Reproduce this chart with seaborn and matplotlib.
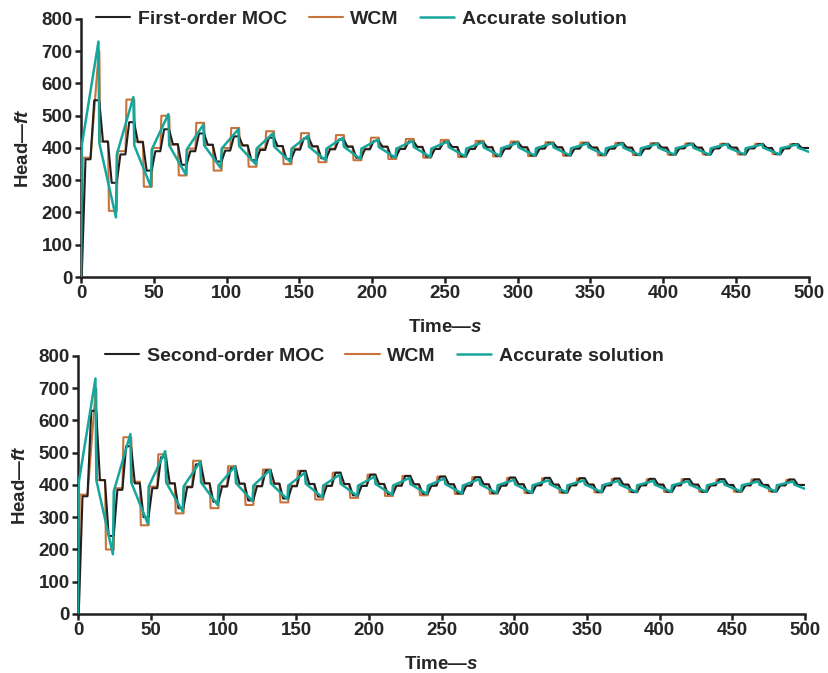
import matplotlib
matplotlib.use('Agg')
import matplotlib.pyplot as plt
import seaborn as sns
import pandas as pd

# start of each 6 s step of the numerical schemes
step_start = [0, 6, 12, 18, 24, 30, 36, 42, 48, 54, 60, 66, 72, 78, 84, 90,
              96, 102, 108, 114, 120, 126, 132, 138, 144, 150, 156, 162, 168,
              174, 180, 186, 192, 198, 204, 210, 216, 222, 228, 234, 240, 246,
              252, 258, 264, 270, 276, 282, 288, 294, 300, 306, 312, 318, 324,
              330, 336, 342, 348, 354, 360, 366, 372, 378, 384, 390, 396, 402,
              408, 414, 420, 426, 432, 438, 444, 450, 456, 462, 468, 474, 480,
              486, 492]

# head level (ft) held during each step
moc1_level = [365, 548, 420, 292, 380, 480, 418, 330, 390, 458, 412, 348,
              390, 445, 410, 358, 392, 436, 408, 362, 394, 432, 406, 366,
              395, 430, 405, 368, 396, 426, 404, 370, 396, 422, 404, 373,
              397, 420, 403, 374, 397, 418, 403, 375, 397, 417, 402, 376,
              398, 416, 402, 377, 398, 415, 402, 378, 398, 414, 401, 379,
              398, 414, 401, 379, 398, 413, 401, 380, 399, 413, 401, 380,
              399, 412, 401, 381, 399, 412, 400, 381, 399, 412, 400]

wcm1_level = [370, 700, 420, 205, 390, 550, 420, 280, 400, 500, 410, 315,
              398, 478, 410, 330, 400, 462, 408, 342, 398, 452, 406, 350,
              398, 446, 405, 356, 398, 440, 405, 362, 398, 432, 404, 366,
              398, 428, 404, 370, 398, 425, 403, 372, 398, 422, 403, 374,
              399, 420, 402, 375, 399, 418, 402, 376, 399, 417, 402, 377,
              399, 416, 401, 378, 399, 415, 401, 379, 399, 414, 401, 380,
              399, 413, 401, 380, 399, 413, 400, 381, 399, 412, 400]

moc2_level = [365, 630, 415, 242, 385, 520, 405, 300, 390, 486, 405, 328,
              393, 464, 405, 348, 395, 452, 404, 352, 396, 445, 404, 358,
              396, 443, 403, 364, 397, 438, 403, 368, 397, 432, 403, 372,
              398, 428, 402, 373, 398, 426, 402, 374, 398, 424, 402, 375,
              398, 423, 402, 376, 399, 422, 401, 377, 399, 421, 401, 378,
              399, 420, 401, 378, 399, 419, 401, 379, 399, 418, 401, 379,
              399, 418, 400, 380, 399, 417, 400, 380, 399, 417, 400]

wcm2_level = [370, 700, 415, 200, 390, 548, 410, 275, 395, 495, 405, 312,
              395, 475, 405, 328, 397, 458, 404, 338, 397, 448, 404, 346,
              398, 444, 403, 355, 398, 438, 403, 360, 398, 432, 403, 366,
              398, 428, 402, 368, 398, 426, 402, 372, 398, 424, 402, 373,
              399, 422, 402, 375, 399, 421, 401, 376, 399, 420, 401, 377,
              399, 419, 401, 378, 399, 418, 401, 378, 399, 418, 401, 379,
              399, 417, 400, 379, 399, 417, 400, 380, 399, 416, 400]

# accurate solution: sawtooth, value just before / after each turn
acc_knot = [0, 12, 24, 36, 48, 60, 72, 84, 96, 108, 120, 132, 144, 156, 168,
            180, 192, 204, 216, 228, 240, 252, 264, 276, 288, 300, 312, 324,
            336, 348, 360, 372, 384, 396, 408, 420, 432, 444, 456, 468, 480,
            492]
acc_before = [0, 730, 185, 558, 280, 505, 318, 472, 338, 458, 350, 446, 356,
              438, 362, 432, 366, 426, 370, 422, 372, 420, 374, 418, 375, 416,
              376, 415, 377, 414, 378, 413, 378, 413, 379, 412, 379, 412, 380,
              411, 380, 411]
acc_after = [410, 415, 380, 408, 395, 408, 395, 408, 398, 406, 398, 405, 398,
             404, 398, 404, 398, 403, 398, 403, 398, 403, 398, 402, 399, 402,
             399, 402, 399, 402, 399, 401, 399, 401, 399, 401, 399, 401, 399,
             401, 399, 401]
acc_end = 388

C_MOC = '#231f20'
C_WCM = '#c8733c'
C_ACC = '#17a69c'

sns.set_style('ticks')
plt.rcParams['font.family'] = ['Liberation Sans', 'DejaVu Sans']
plt.rcParams['font.weight'] = 'bold'
plt.rcParams['axes.labelweight'] = 'bold'
plt.rcParams['mathtext.fontset'] = 'custom'
plt.rcParams['mathtext.it'] = 'Liberation Sans:italic:bold'
plt.rcParams['mathtext.rm'] = 'Liberation Sans:bold'


def stair_path(levels, lag, rise, slow=None):
    # slow: {step index: rise time} for steps that ramp instead of jumping
    slow = slow or {}
    t, h = [0.0], [0.0]
    prev = 0.0
    for k, (start, level) in enumerate(zip(step_start, levels)):
        r = slow.get(k, rise)
        t += [start + lag, start + lag + r]
        h += [prev, level]
        prev = level
    t.append(500.0)
    h.append(prev)
    return pd.DataFrame({'time': t, 'head': h})


def accurate_path():
    t, h = [], []
    for knot, before, after in zip(acc_knot, acc_before, acc_after):
        t += [knot, knot + 0.6]
        h += [before, after]
    t.append(500.0)
    h.append(acc_end)
    return pd.DataFrame({'time': t, 'head': h})


def draw_panel(ax, moc_levels, wcm_levels, moc_name, legend_x):
    wcm = stair_path(wcm_levels, 0.6, 0.6, slow={1: 5.6})
    moc = stair_path(moc_levels, 0.5, 2.6)
    acc = accurate_path()

    sns.lineplot(data=wcm, x='time', y='head', ax=ax, color=C_WCM, lw=1.5,
                 estimator=None, sort=False, zorder=2)
    sns.lineplot(data=moc, x='time', y='head', ax=ax, color=C_MOC, lw=1.5,
                 estimator=None, sort=False, zorder=3)
    sns.lineplot(data=acc, x='time', y='head', ax=ax, color=C_ACC, lw=1.8,
                 estimator=None, sort=False, zorder=4)

    lines = ax.get_lines()
    ax.legend([lines[1], lines[0], lines[2]],
              [moc_name, 'WCM', 'Accurate solution'],
              loc='center left', bbox_to_anchor=(legend_x, 1.0), ncol=3,
              frameon=False, fontsize=14, handlelength=1.75,
              handletextpad=0.4, columnspacing=1.1, borderpad=0,
              borderaxespad=0)

    ax.set_xlim(0, 500)
    ax.set_ylim(0, 800)
    ax.set_xticks(range(0, 501, 50))
    ax.set_yticks(range(0, 801, 100))
    ax.set_xlabel('Time—$\\it{s}$', fontsize=13.5, labelpad=12)
    ax.set_ylabel('Head—$\\it{ft}$', fontsize=13.5, labelpad=7)
    ax.tick_params(labelsize=13.5, width=1.8, length=4, pad=2, color='#231f20')
    sns.despine(ax=ax)
    for side in ['left', 'bottom']:
        ax.spines[side].set_linewidth(1.8)
        ax.spines[side].set_color('#231f20')


fig = plt.figure(figsize=(8.29, 6.73), dpi=100)
ax_top = fig.add_axes([0.0977, 0.5884, 0.878, 0.3834])
ax_bot = fig.add_axes([0.0941, 0.0877, 0.877, 0.3834])

draw_panel(ax_top, moc1_level, wcm1_level, 'First-order MOC', 0.021)
draw_panel(ax_bot, moc2_level, wcm2_level, 'Second-order MOC', 0.037)

fig.savefig('out.png', dpi=100)
